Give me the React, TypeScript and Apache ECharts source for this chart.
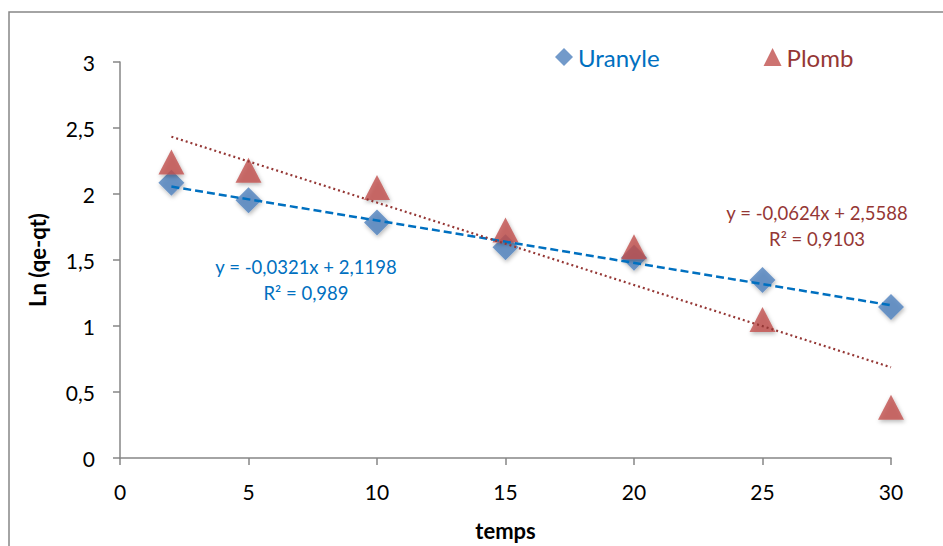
import React, { useEffect, useRef } from "react";
import * as echarts from "echarts";

const times = [2, 5, 10, 15, 20, 25, 30];
const uranyleValues = [2.086, 1.952, 1.784, 1.596, 1.517, 1.349, 1.143];
const plombValues = [2.242, 2.18, 2.05, 1.727, 1.6, 1.049, 0.384];
const trendX = [2, 30];
const uranyleTrendValues = [2.056, 1.157];
const plombTrendValues = [2.434, 0.687];
const uranyleEquation = ["y = -0,0321x + 2,1198", "R² = 0,989"];
const plombEquation = ["y = -0,0624x + 2,5588", "R² = 0,9103"];
const seriesNames = ["Uranyle", "Plomb"];

const FONT = "Lato, 'Noto Sans', sans-serif";

export default function App() {
  const ref = useRef<HTMLDivElement>(null);
  useEffect(() => {
    document.body.style.margin = "0";
    if (!ref.current) return;
    const chart = echarts.init(ref.current, null, { renderer: "svg" });
    const pair = (xs: number[], ys: number[]) => xs.map((x, i) => [x, ys[i]]);
    const shadow = {
      shadowBlur: 4,
      shadowColor: "rgba(0,0,0,0.35)",
      shadowOffsetX: 1,
      shadowOffsetY: 2,
    };
    const eqText = (text: string, x: number, y: number, color: string) => ({
      type: "text",
      x,
      y,
      style: {
        text,
        fill: color,
        font: `18.5px ${FONT}`,
        textAlign: "center",
        textVerticalAlign: "middle",
      },
    });
    chart.setOption({
      animation: false,
      backgroundColor: "#ffffff",
      textStyle: { fontFamily: FONT },
      grid: { left: 120, right: 52, top: 62, bottom: 86 },
      legend: {
        left: 555,
        top: 45,
        padding: 0,
        itemWidth: 18,
        itemHeight: 18,
        itemGap: 104,
        textStyle: { fontSize: 24, fontFamily: FONT },
        data: [
          { name: seriesNames[0], icon: "diamond", textStyle: { color: "#0070C0" } },
          { name: seriesNames[1], icon: "triangle", textStyle: { color: "#953735" } },
        ],
      },
      xAxis: {
        type: "value",
        min: 0,
        max: 30,
        interval: 5,
        name: "temps",
        nameLocation: "middle",
        nameGap: 61,
        nameTextStyle: { fontSize: 22, fontWeight: "bold", color: "#000", fontFamily: FONT },
        axisLine: { lineStyle: { color: "#868686", width: 1.5 } },
        axisTick: { show: true, length: 7, lineStyle: { color: "#868686", width: 1.5 } },
        axisLabel: { fontSize: 21, color: "#000", margin: 23, fontFamily: FONT },
        splitLine: { show: false },
      },
      yAxis: {
        type: "value",
        min: 0,
        max: 3,
        interval: 0.5,
        name: "Ln (qe-qt)",
        nameLocation: "middle",
        nameGap: 72,
        nameRotate: 90,
        nameTextStyle: { fontSize: 22, fontWeight: "bold", color: "#000", fontFamily: FONT },
        axisLine: { show: true, lineStyle: { color: "#868686", width: 1.5 } },
        axisTick: { show: true, length: 7, lineStyle: { color: "#868686", width: 1.5 } },
        axisLabel: {
          fontSize: 21,
          color: "#000",
          margin: 25,
          fontFamily: FONT,
          formatter: (v: number) => String(v).replace(".", ","),
        },
        splitLine: { show: false },
      },
      series: [
        {
          name: seriesNames[0],
          type: "scatter",
          symbol: "diamond",
          symbolSize: [26, 26],
          itemStyle: { color: "#4F81BD", ...shadow },
          data: pair(times, uranyleValues),
          z: 2,
        },
        {
          name: seriesNames[1],
          type: "scatter",
          symbol: "triangle",
          symbolSize: [26, 25],
          itemStyle: { color: "#C0504D", ...shadow },
          data: pair(times, plombValues),
          z: 2,
        },
        {
          name: "trendU",
          type: "line",
          showSymbol: false,
          symbol: "none",
          lineStyle: { color: "#0070C0", width: 2.5, type: [8, 4] },
          data: pair(trendX, uranyleTrendValues),
          z: 5,
          silent: true,
        },
        {
          name: "trendP",
          type: "line",
          showSymbol: false,
          symbol: "none",
          lineStyle: { color: "#953735", width: 2.2, type: [2, 3] },
          data: pair(trendX, plombTrendValues),
          z: 5,
          silent: true,
        },
      ],
      graphic: [
        {
          type: "rect",
          shape: { x: 9, y: 12, width: 1000, height: 600 },
          style: { fill: "none", stroke: "#868686", lineWidth: 1.5 },
          z: -1,
          silent: true,
        },
        eqText(uranyleEquation[0], 306, 267, "#0070C0"),
        eqText(uranyleEquation[1], 306, 293, "#0070C0"),
        eqText(plombEquation[0], 817, 213, "#953735"),
        eqText(plombEquation[1], 817, 239, "#953735"),
      ],
    });
    return () => chart.dispose();
  }, []);
  return <div ref={ref} style={{ width: 943, height: 546 }} />;
}
